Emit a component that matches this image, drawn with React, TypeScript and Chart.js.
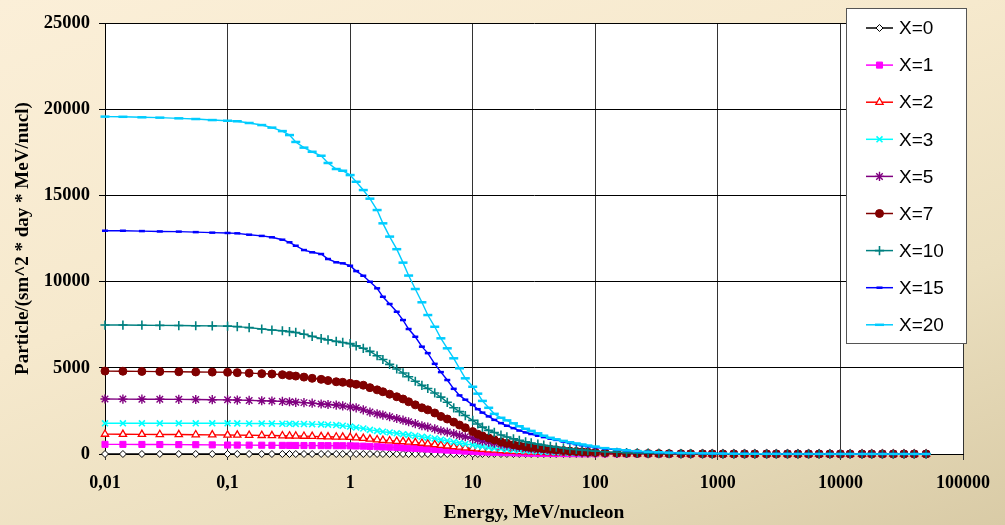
import React, { useEffect, useRef } from 'react';
import { Chart, registerables } from 'chart.js';
import { drawPoint } from 'chart.js/helpers';

Chart.register(...registerables);

// Energy grid, MeV/nucleon
const energy = [
  0.01, 0.014, 0.02, 0.028, 0.04, 0.055, 0.075, 0.1, 0.12, 0.15,
  0.19, 0.23, 0.28, 0.32, 0.36, 0.42, 0.49, 0.58, 0.66, 0.77,
  0.87, 1, 1.12, 1.28, 1.45, 1.66, 1.85, 2.1, 2.4, 2.7,
  3, 3.4, 3.85, 4.3, 4.9, 5.5, 6.2, 7, 7.8, 8.7,
  10, 11, 12, 13.5, 15, 17, 19, 21.5, 24, 27,
  30, 34, 38, 43, 48, 55, 62, 70, 78, 87,
  100, 120, 150, 180, 220, 270, 330, 400, 500, 600,
  750, 900, 1100, 1350, 1650, 2000, 2500, 3000, 3700, 4500,
  5500, 6700, 8200, 10000, 12000, 15000, 18000, 22000, 27000, 33000,
  40000, 50000,
];

const seriesX0 = [
  0, 0, 0, 0, 0, 0, 0, 0, 0, 0,
  0, 0, 0, 0, 0, 0, 0, 0, 0, 0,
  0, 0, 0, 0, 0, 0, 0, 0, 0, 0,
  0, 0, 0, 0, 0, 0, 0, 0, 0, 0,
  0, 0, 0, 0, 0, 0, 0, 0, 0, 0,
  0, 0, 0, 0, 0, 0, 0, 0, 0, 0,
  0, 0, 0, 0, 0, 0, 0, 0, 0, 0,
  0, 0, 0, 0, 0, 0, 0, 0, 0, 0,
  0, 0, 0, 0, 0, 0, 0, 0, 0, 0,
  0, 0,
];

const seriesX1 = [
  560, 558, 555, 550, 545, 540, 530, 520, 518, 515,
  510, 505, 500, 498, 495, 492, 490, 487, 485, 482,
  480, 475, 465, 455, 440, 425, 410, 395, 375, 355,
  340, 320, 300, 285, 265, 245, 225, 205, 185, 165,
  145, 132, 120, 107, 95, 85, 75, 66, 58, 51,
  45, 39, 34, 30, 26, 22, 19, 16, 14, 12,
  10, 8, 6, 5, 4, 3, 3, 2, 2, 1,
  1, 1, 1, 1, 1, 1, 1, 1, 1, 1,
  1, 1, 1, 1, 1, 1, 1, 1, 1, 1,
  1, 1,
];

const seriesX2 = [
  1150, 1145, 1140, 1135, 1130, 1120, 1110, 1100, 1095, 1090,
  1080, 1070, 1060, 1050, 1045, 1035, 1025, 1010, 1000, 990,
  980, 965, 940, 910, 870, 830, 800, 770, 740, 720,
  690, 660, 630, 590, 550, 510, 470, 430, 400, 360,
  330, 300, 275, 250, 225, 200, 180, 160, 140, 125,
  110, 95, 85, 75, 66, 57, 50, 43, 38, 33,
  28, 23, 18, 15, 12, 10, 8, 6, 5, 4,
  3, 3, 2, 2, 2, 1, 1, 1, 1, 1,
  1, 1, 1, 1, 1, 1, 1, 1, 1, 1,
  1, 1,
];

const seriesX3 = [
  1780, 1780, 1780, 1780, 1780, 1780, 1780, 1780, 1775, 1770,
  1765, 1760, 1755, 1750, 1745, 1740, 1730, 1720, 1700, 1680,
  1640, 1590, 1540, 1480, 1400, 1340, 1290, 1250, 1200, 1150,
  1110, 1060, 1000, 950, 900, 830, 770, 700, 640, 580,
  520, 470, 430, 380, 340, 300, 270, 240, 210, 185,
  165, 145, 128, 112, 100, 86, 74, 64, 56, 49,
  42, 34, 27, 22, 18, 14, 11, 9, 7, 6,
  5, 4, 4, 3, 3, 2, 2, 2, 2, 1,
  1, 1, 1, 1, 1, 1, 1, 1, 1, 1,
  1, 1,
];

const seriesX5 = [
  3190, 3185, 3180, 3175, 3170, 3160, 3150, 3140, 3130, 3110,
  3090, 3070, 3050, 3030, 3000, 2980, 2950, 2900, 2870, 2840,
  2790, 2730, 2680, 2560, 2430, 2330, 2260, 2160, 2060, 1960,
  1870, 1760, 1640, 1560, 1460, 1350, 1270, 1180, 1080, 1000,
  910, 830, 760, 690, 630, 570, 510, 450, 400, 350,
  310, 270, 240, 210, 185, 160, 135, 115, 100, 85,
  72, 58, 45, 36, 29, 23, 18, 15, 12, 10,
  8, 7, 6, 5, 4, 3, 3, 3, 2, 2,
  2, 2, 1, 1, 1, 1, 1, 1, 1, 1,
  1, 1,
];

const seriesX7 = [
  4810, 4800, 4790, 4780, 4770, 4760, 4750, 4740, 4720, 4690,
  4660, 4640, 4600, 4560, 4520, 4460, 4390, 4330, 4260, 4190,
  4160, 4100, 4040, 3990, 3850, 3720, 3610, 3470, 3320, 3190,
  3030, 2850, 2680, 2560, 2380, 2180, 2030, 1850, 1680, 1520,
  1300, 1150, 1050, 930, 820, 700, 620, 540, 480, 420,
  380, 340, 310, 270, 240, 200, 170, 145, 125, 108,
  92, 72, 56, 45, 36, 29, 23, 19, 15, 12,
  10, 8, 7, 6, 5, 4, 4, 3, 3, 2,
  2, 2, 2, 1, 1, 1, 1, 1, 1, 1,
  1, 1,
];

const seriesX10 = [
  7480, 7480, 7470, 7460, 7450, 7440, 7430, 7420, 7390, 7330,
  7250, 7190, 7150, 7100, 7050, 6950, 6820, 6700, 6620, 6530,
  6470, 6400, 6270, 6130, 5950, 5700, 5480, 5200, 4930, 4700,
  4480, 4220, 3980, 3800, 3540, 3300, 3000, 2680, 2460, 2230,
  1950, 1740, 1560, 1370, 1250, 1100, 990, 880, 790, 710,
  640, 570, 510, 450, 400, 350, 300, 260, 230, 200,
  165, 130, 100, 80, 62, 48, 37, 30, 23, 19,
  15, 12, 10, 8, 7, 6, 5, 4, 4, 3,
  3, 2, 2, 2, 2, 1, 1, 1, 1, 1,
  1, 1,
];

const seriesX15 = [
  12950, 12950, 12930, 12910, 12900, 12870, 12840, 12820, 12800, 12720,
  12650, 12570, 12430, 12280, 12080, 11830, 11700, 11600, 11310, 11120,
  11060, 10920, 10610, 10340, 9990, 9610, 9120, 8700, 8250, 7770,
  7250, 6800, 6225, 5850, 5230, 4750, 4290, 3780, 3400, 3150,
  2850, 2600, 2400, 2180, 1980, 1790, 1640, 1500, 1360, 1250,
  1160, 1060, 980, 890, 820, 720, 640, 570, 510, 450,
  395, 315, 245, 195, 155, 120, 93, 73, 56, 45,
  35, 29, 23, 19, 15, 12, 10, 9, 7, 6,
  5, 5, 4, 3, 3, 3, 2, 2, 2, 2,
  1, 1,
];

const seriesX20 = [
  19570, 19560, 19530, 19510, 19470, 19430, 19370, 19330, 19300, 19200,
  19080, 18930, 18730, 18500, 18100, 17770, 17530, 17300, 16880, 16530,
  16430, 16180, 15790, 15310, 14810, 14150, 13380, 12610, 11880, 11100,
  10350, 9570, 8800, 8060, 7380, 6710, 6130, 5550, 4970, 4390,
  3900, 3500, 3080, 2680, 2330, 2100, 1950, 1780, 1610, 1460,
  1340, 1200, 1060, 940, 850, 760, 680, 610, 550, 490,
  430, 340, 265, 210, 165, 130, 100, 78, 60, 48,
  38, 31, 25, 20, 16, 13, 11, 9, 8, 7,
  6, 5, 4, 4, 3, 3, 3, 2, 2, 2,
  2, 1,
];

const seriesLabels = ['X=0', 'X=1', 'X=2', 'X=3', 'X=5', 'X=7', 'X=10', 'X=15', 'X=20'];
const seriesValues = [seriesX0, seriesX1, seriesX2, seriesX3, seriesX5, seriesX7, seriesX10, seriesX15, seriesX20];

const xTickValues = [0.01, 0.1, 1, 10, 100, 1000, 10000, 100000];
const xTickLabels = ['0,01', '0,1', '1', '10', '100', '1000', '10000', '100000'];

const xTitle = 'Energy, MeV/nucleon';
const yTitle = 'Particle/(sm^2 * day * MeV/nucl)';

const seriesStyles = [
  { color: '#000000', fill: '#ffffff', pointStyle: 'rectRot', radius: 3.5, pointWidth: 1 },
  { color: '#ff00ff', fill: '#ff00ff', pointStyle: 'rect', radius: 4.3, pointWidth: 1 },
  { color: '#ff0000', fill: '#ffffff', pointStyle: 'triangle', radius: 4.2, pointWidth: 1.3 },
  { color: '#00ffff', fill: '#00ffff', pointStyle: 'crossRot', radius: 4.2, pointWidth: 1.6 },
  { color: '#800080', fill: '#800080', pointStyle: 'star', radius: 4.6, pointWidth: 1.4 },
  { color: '#800000', fill: '#800000', pointStyle: 'circle', radius: 4, pointWidth: 1 },
  { color: '#008080', fill: '#008080', pointStyle: 'cross', radius: 4.6, pointWidth: 1.6 },
  { color: '#0000ff', fill: '#0000ff', pointStyle: 'line', radius: 3, pointWidth: 2.5 },
  { color: '#00ccff', fill: '#00ccff', pointStyle: 'line', radius: 4.5, pointWidth: 2.5 },
];

const serif = '"Liberation Serif", "Times New Roman", serif';

const plotBgPlugin = {
  id: 'plotBg',
  beforeDraw(chart: any) {
    const { ctx, chartArea } = chart;
    ctx.save();
    ctx.fillStyle = '#ffffff';
    ctx.fillRect(chartArea.left, chartArea.top, chartArea.right - chartArea.left, chartArea.bottom - chartArea.top);
    ctx.restore();
  },
};

const boxLegendPlugin = {
  id: 'boxLegend',
  afterDraw(chart: any) {
    const ctx = chart.ctx;
    ctx.save();
    const bx = 846.5, by = 8.5, bw = 120, bh = 335;
    ctx.fillStyle = '#ffffff';
    ctx.fillRect(bx, by, bw, bh);
    ctx.strokeStyle = '#555555';
    ctx.lineWidth = 1;
    ctx.strokeRect(bx, by, bw, bh);
    chart.data.datasets.forEach((ds: any, i: number) => {
      const y = 28 + i * 37.1;
      ctx.strokeStyle = ds.borderColor;
      ctx.lineWidth = 1.5;
      ctx.beginPath();
      ctx.moveTo(866, y);
      ctx.lineTo(893, y);
      ctx.stroke();
      ctx.fillStyle = ds.pointBackgroundColor;
      ctx.strokeStyle = ds.pointBorderColor;
      ctx.lineWidth = ds.pointBorderWidth;
      drawPoint(ctx, { pointStyle: ds.pointStyle, radius: ds.pointRadius, borderWidth: ds.pointBorderWidth, rotation: 0 } as any, 879.5, y);
      ctx.fillStyle = '#000000';
      ctx.font = '19px "Liberation Sans", Arial, sans-serif';
      ctx.textBaseline = 'middle';
      ctx.textAlign = 'left';
      ctx.fillText(ds.label, 899, y + 1);
    });
    ctx.restore();
  },
};

export default function App() {
  const ref = useRef<HTMLCanvasElement>(null);

  useEffect(() => {
    document.body.style.margin = '0';
    const datasets = seriesLabels.map((label, si) => {
      const st = seriesStyles[si];
      return {
        label,
        data: energy.map((e, i) => ({ x: e, y: seriesValues[si][i] })),
        borderColor: st.color,
        backgroundColor: st.fill,
        borderWidth: 1.4,
        pointStyle: st.pointStyle,
        pointRadius: st.radius,
        pointBorderColor: st.color,
        pointBackgroundColor: st.fill,
        pointBorderWidth: st.pointWidth,
        tension: 0,
        clip: false,
        order: seriesLabels.length - si,
      };
    });

    const chart = new Chart(ref.current as HTMLCanvasElement, {
      type: 'line',
      data: { datasets } as any,
      options: {
        responsive: false,
        animation: false,
        devicePixelRatio: 1,
        layout: { padding: { top: 23, right: 42, left: 0, bottom: 0 } },
        plugins: {
          legend: { display: false },
          tooltip: { enabled: false },
          title: { display: false },
        },
        scales: {
          x: {
            type: 'logarithmic',
            min: 0.01,
            max: 100000,
            afterBuildTicks: (scale: any) => {
              scale.ticks = xTickValues.map((v) => ({ value: v }));
            },
            afterFit: (scale: any) => {
              scale.height = 71;
            },
            ticks: {
              autoSkip: false,
              maxRotation: 0,
              padding: 13,
              color: '#000000',
              font: { family: serif, size: 18, weight: 'bold' },
              callback: (_v: any, index: number) => xTickLabels[index],
            },
            grid: { color: '#333333', lineWidth: 1, tickLength: 6, drawTicks: true },
            border: { color: '#000000', width: 1 },
            title: {
              display: true,
              text: xTitle,
              color: '#000000',
              font: { family: serif, size: 19.5, weight: 'bold' },
              padding: { top: 0, bottom: 0 },
            },
          },
          y: {
            type: 'linear',
            min: 0,
            max: 25000,
            afterFit: (scale: any) => {
              scale.width = 105;
            },
            ticks: {
              stepSize: 5000,
              padding: 9,
              color: '#000000',
              font: { family: serif, size: 18.5, weight: 'bold' },
              callback: (v: any) => String(v),
            },
            grid: { color: '#000000', lineWidth: 1, tickLength: 6, drawTicks: true },
            border: { color: '#000000', width: 1 },
            title: {
              display: true,
              text: yTitle,
              color: '#000000',
              font: { family: serif, size: 19, weight: 'bold' },
              padding: { top: 12, bottom: 0 },
            },
          },
        },
      } as any,
      plugins: [plotBgPlugin, boxLegendPlugin],
    });
    return () => chart.destroy();
  }, []);

  return (
    <div
      style={{
        position: 'fixed',
        left: 0,
        top: 0,
        width: 1005,
        height: 525,
        background: 'linear-gradient(160deg, #fbefd8 0%, #f6e9cd 40%, #ebdfbf 70%, #d9cba6 100%)',
      }}
    >
      <canvas ref={ref} width={1005} height={525} style={{ display: 'block' }} />
    </div>
  );
}
